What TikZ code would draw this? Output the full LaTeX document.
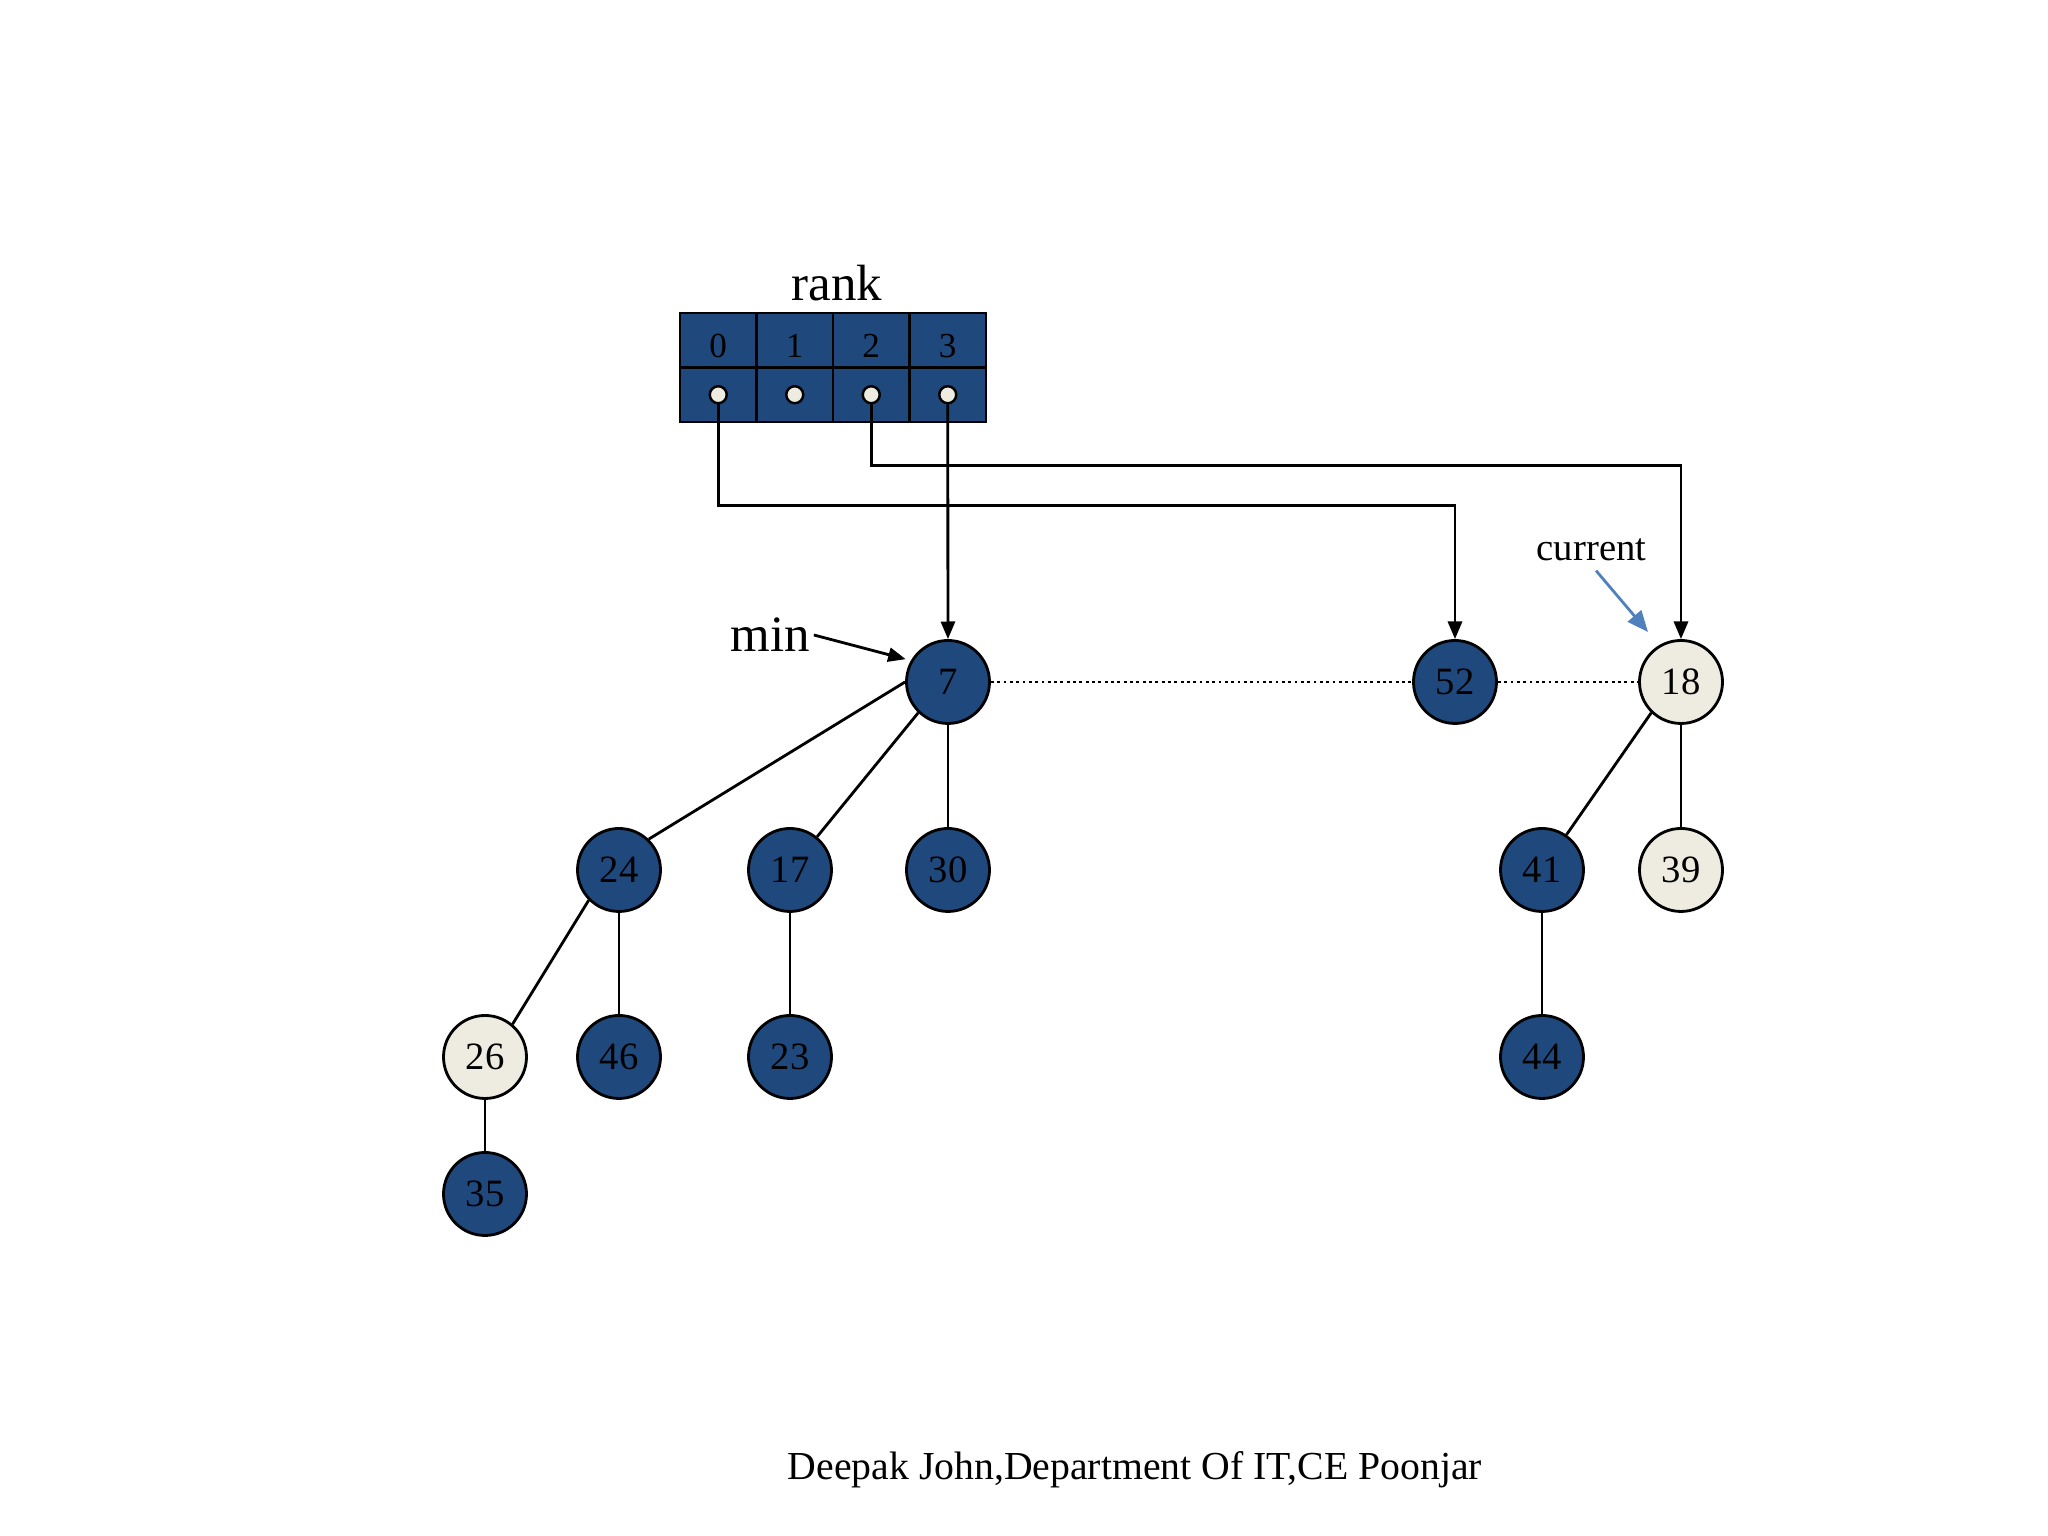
\documentclass[tikz,border=0pt]{standalone}
\usepackage{fontspec}
\setmainfont{Liberation Serif}
\usetikzlibrary{arrows.meta}
\definecolor{heapblue}{HTML}{1F497D}
\definecolor{markcream}{HTML}{EEECE1}
\definecolor{curblue}{HTML}{4F81BD}
\tikzset{
  key/.style={circle,draw,line width=0.8pt,fill=heapblue,minimum size=0.83cm,
    inner sep=0pt,font=\fontsize{11}{13}\selectfont},
  marked/.style={key,fill=markcream},
  cell/.style={draw,line width=0.8pt,fill=heapblue,minimum width=0.765cm,
    minimum height=0.545cm,inner sep=0pt,outer sep=0pt},
  ptrdot/.style={circle,draw,line width=0.7pt,fill=markcream,minimum size=0.17cm,inner sep=0pt},
  ptr/.style={line width=0.8pt,-{Triangle[length=5pt,width=4pt]}},
  link/.style={line width=0.8pt},
}
\begin{document}
\begin{tikzpicture}[x=1cm,y=1cm]
  \useasboundingbox (0,0) rectangle (20.48,15.36);
  % rank array
  \foreach \i in {0,...,3} {
    \node[cell,font=\fontsize{10}{12}\selectfont,text height=2.2ex,text depth=0pt] (r\i) at (7.1825+0.765*\i,11.9575) {\i};
    \node[cell] (p\i) at (7.1825+0.765*\i,11.4125) {};
    \node[ptrdot] (d\i) at (p\i) {};
  }
  \node[font=\fontsize{14.5}{16}\selectfont] (rank) at (8.37,12.53) {rank};
  % root list
  \node[key] (n7) at (9.48,8.54) {7};
  \node[key] (n52) at (14.55,8.54) {52};
  \node[marked] (n18) at (16.81,8.54) {18};
  % children
  \node[key] (n24) at (6.19,6.66) {24};
  \node[key] (n17) at (7.90,6.66) {17};
  \node[key] (n30) at (9.48,6.66) {30};
  \node[key] (n41) at (15.42,6.66) {41};
  \node[marked] (n39) at (16.81,6.66) {39};
  \node[marked] (n26) at (4.85,4.79) {26};
  \node[key] (n46) at (6.19,4.79) {46};
  \node[key] (n23) at (7.90,4.79) {23};
  \node[key] (n44) at (15.42,4.79) {44};
  \node[key] (n35) at (4.85,3.42) {35};
  \draw[link] (n7.west) -- (n24.46);
  \draw[link] (n7.226) -- (n17);
  \draw[link] (n7) -- (n30);
  \draw[link] (n24.225) -- (n26.50);
  \draw[link] (n24) -- (n46);
  \draw[link] (n17) -- (n23);
  \draw[link] (n26) -- (n35);
  \draw[link] (n18.226) -- (n41);
  \draw[link] (n18) -- (n39);
  \draw[link] (n41) -- (n44);
  \draw[densely dotted,line width=0.8pt] (n7) -- (n52);
  \draw[densely dotted,line width=0.8pt] (n52) -- (n18);
  % pointers out of the array
  \draw[ptr] (d0) -- ++(0,-1.11) -| (n52);
  \draw[ptr] (d2) -- ++(0,-0.71) -| (n18);
  \draw[ptr] (d3) -- (n7);
  % labels
  \node[font=\fontsize{14.5}{16}\selectfont,inner sep=1pt] (minlbl) at (7.70,9.01) {min};
  \draw[ptr,shorten >=1.5pt] (minlbl.east) -- (n7.150);
  \node[font=\fontsize{11}{13}\selectfont,inner sep=1pt] (cur) at (15.915,9.86) {current};
  \coordinate (curtip) at (16.48,9.04);
  \draw[curblue,line width=0.8pt,shorten <=2pt,-{Triangle[length=6pt,width=5pt]}] (cur.south) -- (curtip);
  \node[font=\fontsize{11.3}{14}\selectfont] (credit) at (11.35,0.66) {Deepak John,Department Of IT,CE Poonjar};
\end{tikzpicture}
\end{document}
